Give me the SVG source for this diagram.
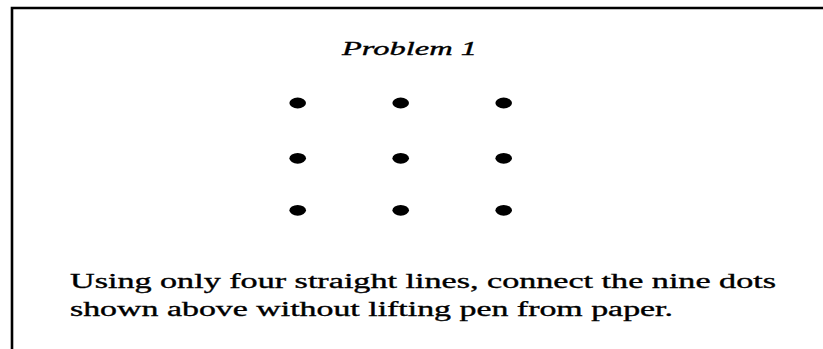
<svg xmlns="http://www.w3.org/2000/svg" width="823" height="349" viewBox="0 0 823 349">
<style>
.t{font-family:"Liberation Serif","Times New Roman",serif;fill:#000;stroke:#000;stroke-width:0.35}
.dot{fill:#000}
.frame{fill:none;stroke:#000;stroke-width:2.6}
</style>
<rect width="823" height="349" fill="#fff"/>
<g id="frame"><path class="frame" d="M12 349 V8 H823"/></g>
<g id="title"><text class="t" x="342" y="55" font-size="19" font-style="italic" textLength="135" lengthAdjust="spacingAndGlyphs">Problem 1</text></g>
<g id="dots">
<ellipse class="dot" cx="297.7" cy="103" rx="8.3" ry="5.4"/>
<ellipse class="dot" cx="400.7" cy="103" rx="8.3" ry="5.4"/>
<ellipse class="dot" cx="503.7" cy="103" rx="8.3" ry="5.4"/>
<ellipse class="dot" cx="297.7" cy="158.3" rx="8.3" ry="5.4"/>
<ellipse class="dot" cx="400.7" cy="158.3" rx="8.3" ry="5.4"/>
<ellipse class="dot" cx="503.7" cy="158.3" rx="8.3" ry="5.4"/>
<ellipse class="dot" cx="297.7" cy="210.3" rx="8.3" ry="5.4"/>
<ellipse class="dot" cx="400.7" cy="210.3" rx="8.3" ry="5.4"/>
<ellipse class="dot" cx="503.7" cy="210.3" rx="8.3" ry="5.4"/>
</g>
<g id="caption">
<text class="t" x="70" y="288" font-size="20.5" textLength="706" lengthAdjust="spacingAndGlyphs">Using only four straight lines, connect the nine dots</text>
<text class="t" x="70" y="316" font-size="20.5" textLength="603" lengthAdjust="spacingAndGlyphs">shown above without lifting pen from paper.</text>
</g>
</svg>
